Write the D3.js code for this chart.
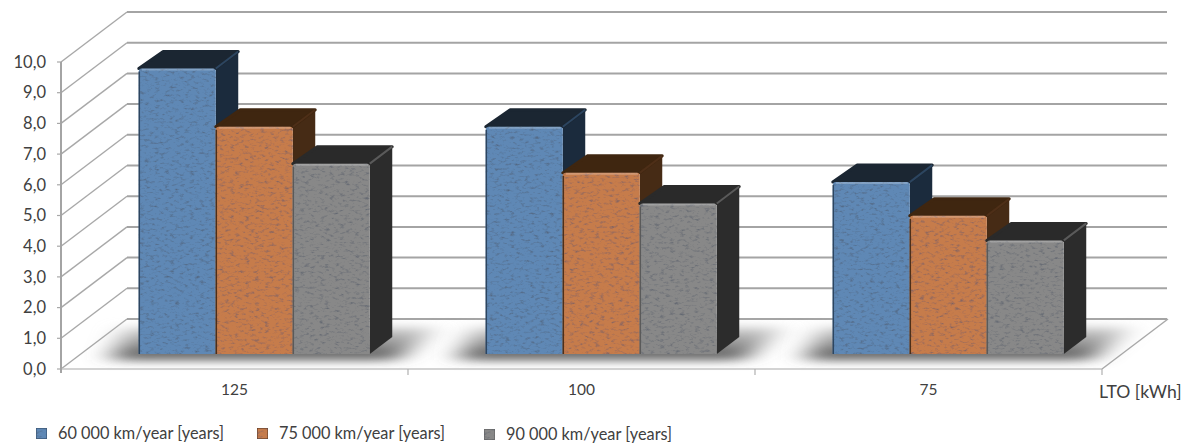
<!DOCTYPE html>
<html>
<head>
<meta charset="utf-8">
<title>LTO</title>
<script src="https://d3js.org/d3.v7.min.js"></script>
<style>
html, body { margin: 0; padding: 0; background: #fff; overflow: hidden; }
svg { display: block; }
text { font-family: Lato, "Open Sans", sans-serif; fill: #404040; }
</style>
</head>
<body>
<svg id="chart" width="1185" height="444"></svg>
<script>
var categories = ["125", "100", "75"];
var seriesNames = ["60 000 km/year [years]", "75 000 km/year [years]", "90 000 km/year [years]"];
var km60 = [9.3, 7.4, 5.6];
var km75 = [7.4, 5.9, 4.5];
var km90 = [6.2, 4.9, 3.7];
var yTicks = [0, 1, 2, 3, 4, 5, 6, 7, 8, 9, 10];
var axisName = "LTO [kWh]";

var seriesValues = [km60, km75, km90];
var frontColors = ["#5f88b5", "#c67c4c", "#888888"];
var topColors = ["#1b2632", "#3f2610", "#2a2a2a"];
var sideColors = ["#1b2b3d", "#462b15", "#2c2c2c"];
var edgeColors = ["#2c4560", "#4e2f18", "#5a5a5a"];

// floor depth: how far the back wall is pushed from the front plane
var depthX = 66;
var depthY = -50;
var barNear = 0.3;
var barFar = 0.64;

var svg = d3.select("#chart");

var x = d3.scaleBand().domain(categories).range([61, 1102]);
var y = d3.scaleLinear().domain([0, 10]).range([369, 62]);
var inner = d3.scaleBand().domain(d3.range(seriesValues.length))
	.range([58, x.bandwidth() - 58]);

var project = function(px, py, depth) {
	return [px + depthX * depth, py + depthY * depth];
};

var polyPoints = function(pts) {
	return pts.map(function(p) { return p.join(","); }).join(" ");
};

// front face: rounded at the top, square where it meets the floor
var frontPath = function(x0, x1, top, bottom) {
	var p = d3.path();
	var r = 3;
	p.moveTo(x0, bottom);
	p.lineTo(x0, top + r);
	p.arcTo(x0, top, x0 + r, top, r);
	p.lineTo(x1 - r, top);
	p.arcTo(x1, top, x1, top + r, r);
	p.lineTo(x1, bottom);
	p.closePath();
	return p.toString();
};

var defs = svg.append("defs");

// speckled stone look laid over the bar faces
var addGrain = function(id, strength) {
	var f = defs.append("filter").attr("id", id)
		.attr("x", "0").attr("y", "0").attr("width", "100%").attr("height", "100%");
	f.append("feTurbulence").attr("type", "fractalNoise")
		.attr("baseFrequency", "0.2 0.38").attr("numOctaves", 3).attr("seed", 7)
		.attr("result", "noise");
	f.append("feColorMatrix").attr("in", "noise").attr("type", "matrix")
		.attr("values", "0 0 0 0 0.08  0 0 0 0 0.1  0 0 0 0 0.14  " + strength + " 0 0 0 " + (-strength * 0.52))
		.attr("result", "specks");
	f.append("feComposite").attr("in", "specks").attr("in2", "SourceAlpha")
		.attr("operator", "in").attr("result", "clipped");
	var m = f.append("feMerge");
	m.append("feMergeNode").attr("in", "SourceGraphic");
	m.append("feMergeNode").attr("in", "clipped");
};
addGrain("grain", 1.9);

defs.append("filter").attr("id", "floorShadow")
	.attr("x", "-25%").attr("y", "-60%").attr("width", "150%").attr("height", "220%")
	.append("feGaussianBlur").attr("stdDeviation", "14 5");

var shadowFade = defs.append("linearGradient").attr("id", "shadowFade")
	.attr("x1", 0).attr("y1", 0).attr("x2", 0).attr("y2", 1);
shadowFade.append("stop").attr("offset", "0%").attr("stop-color", "#d8d8d8");
shadowFade.append("stop").attr("offset", "100%").attr("stop-color", "#4c4c4c");

defs.append("filter").attr("id", "soft")
	.attr("x", "-5%").attr("y", "-5%").attr("width", "110%").attr("height", "110%")
	.append("feGaussianBlur").attr("stdDeviation", 1.1);

// back wall gridlines and their faint drop shadow
var walls = svg.append("g");
yTicks.forEach(function(t) {
	var start = project(61, y(t), 1);
	var end = project(1101, y(t), 1);
	walls.append("line")
		.attr("x1", start[0]).attr("y1", start[1] + 3)
		.attr("x2", end[0]).attr("y2", end[1] + 3)
		.attr("stroke", "#dcdcdc").attr("stroke-width", 3)
		.attr("filter", "url(#soft)");
	walls.append("line")
		.attr("x1", start[0]).attr("y1", start[1])
		.attr("x2", end[0]).attr("y2", end[1])
		.attr("stroke", "#a4a4a4").attr("stroke-width", 2);
	// side wall diagonal
	walls.append("line")
		.attr("x1", 61).attr("y1", y(t))
		.attr("x2", start[0]).attr("y2", start[1])
		.attr("stroke", "#a8a8a8").attr("stroke-width", 1.4);
	// value tick
	walls.append("line")
		.attr("x1", 57).attr("y1", y(t))
		.attr("x2", 61).attr("y2", y(t))
		.attr("stroke", "#a8a8a8").attr("stroke-width", 1.2);
});

// shadows pooled around each cluster on the floor
var shadows = svg.append("g");
categories.forEach(function(c) {
	var left = x(c) + inner(0);
	var right = x(c) + inner(2) + inner.bandwidth();
	var a = project(left - 19, y(0), 0.18);
	var b = project(right + 34, y(0), 0.18);
	var d = project(right + 30, y(0), 0.84);
	var e = project(left - 48, y(0), 0.84);
	shadows.append("polygon")
		.attr("points", polyPoints([a, b, d, e]))
		.attr("fill", "url(#shadowFade)")
		.attr("filter", "url(#floorShadow)");
});

// floor: front edge and right edge
var floorRight = project(1102, y(0), 1);
walls = svg.append("g");
walls.append("line")
	.attr("x1", 1102).attr("y1", y(0))
	.attr("x2", floorRight[0]).attr("y2", floorRight[1])
	.attr("stroke", "#a8a8a8").attr("stroke-width", 1.4);
walls.append("line")
	.attr("x1", 61).attr("y1", y(0) + 1.5)
	.attr("x2", 1102).attr("y2", y(0) + 1.5)
	.attr("stroke", "#e2e2e2").attr("stroke-width", 3)
	.attr("filter", "url(#soft)");
walls.append("line")
	.attr("x1", 61).attr("y1", y(0))
	.attr("x2", 1102).attr("y2", y(0))
	.attr("stroke", "#c4c4c4").attr("stroke-width", 1.6);
walls.append("line")
	.attr("x1", 61).attr("y1", y(10))
	.attr("x2", 61).attr("y2", y(0) + 4)
	.attr("stroke", "#a4a4a4").attr("stroke-width", 2);

// category separators under the floor
var edgeTicks = [x(categories[1]), x(categories[2]), 1102];
walls.selectAll(".sep").data(edgeTicks).enter().append("line")
	.attr("class", "sep")
	.attr("x1", function(d) { return d; }).attr("y1", y(0))
	.attr("x2", function(d) { return d; }).attr("y2", y(0) + 6)
	.attr("stroke", "#b0b0b0").attr("stroke-width", 1.2);

// one box per value, in drawing order so nearer tops overlap
var bars = svg.append("g");
categories.forEach(function(c, ci) {
	seriesValues.forEach(function(values, si) {
		var left = x(c) + inner(si);
		var right = left + inner.bandwidth();
		var topY = y(values[ci]);
		var baseY = y(0);
		var g = bars.append("g");

		var fl = project(left, topY, barNear);
		var fr = project(right, topY, barNear);
		var bl = project(left + 2, topY, barFar);
		var br = project(right, topY, barFar);
		var frb = project(right, baseY, barNear);
		var brb = project(right, baseY, barFar);
		var flb = project(left, baseY, barNear);

		g.append("polygon")
			.attr("points", polyPoints([fr, br, brb, frb]))
			.attr("fill", sideColors[si]);
		g.append("polygon")
			.attr("points", polyPoints([fl, bl, br, fr]))
			.attr("fill", topColors[si])
			.attr("stroke", topColors[si]).attr("stroke-linejoin", "round").attr("stroke-width", 3);
		g.append("line")
			.attr("x1", fr[0]).attr("y1", fr[1])
			.attr("x2", br[0]).attr("y2", br[1])
			.attr("stroke", edgeColors[si]).attr("stroke-width", 2);

		g.append("path")
			.attr("d", frontPath(fl[0], fr[0], fl[1], flb[1]))
			.attr("fill", frontColors[si])
			.attr("filter", "url(#grain)");
		// dark seam on the left side, pale bevel along the top
		g.append("line")
			.attr("x1", fl[0] + 0.5).attr("y1", fl[1] + 3)
			.attr("x2", fl[0] + 0.5).attr("y2", flb[1])
			.attr("stroke", edgeColors[si]).attr("stroke-width", 1.5);
		g.append("line")
			.attr("x1", fl[0] + 3).attr("y1", fl[1] + 1)
			.attr("x2", fr[0] - 2).attr("y2", fl[1] + 1)
			.attr("stroke", "#fff").attr("stroke-opacity", 0.22).attr("stroke-width", 2);
	});
});

// axis text
var yAxis = d3.axisLeft(y).tickValues(yTicks).tickSize(0).tickPadding(0)
	.tickFormat(function(d) { return d.toFixed(1).replace(".", ","); });
var yAxisG = svg.append("g").attr("transform", "translate(46,0)").call(yAxis);
yAxisG.select(".domain").remove();
yAxisG.selectAll("text").attr("font-size", 16.5).style("font-family", "Lato, sans-serif");

var xAxis = d3.axisBottom(x).tickSize(0).tickPadding(0);
var xAxisG = svg.append("g").attr("transform", "translate(0,384)").call(xAxis);
xAxisG.select(".domain").remove();
xAxisG.selectAll("text").attr("font-size", 15.5).style("font-family", "Lato, sans-serif");

svg.append("text")
	.attr("x", 1099).attr("y", 398)
	.attr("font-size", 17.6)
	.text(axisName);

// legend
var legendX = [36, 257, 484];
var legendY = [428, 428, 429];
var legend = svg.selectAll(".legend").data(seriesNames).enter().append("g")
	.attr("class", "legend")
	.attr("transform", function(d, i) { return "translate(" + legendX[i] + "," + legendY[i] + ")"; });
legend.append("rect")
	.attr("width", 11).attr("height", 11).attr("rx", 1)
	.attr("fill", function(d, i) { return frontColors[i]; })
	.attr("stroke", function(d, i) { return edgeColors[i]; })
	.attr("filter", "url(#grain)");
legend.append("text")
	.attr("x", 22).attr("y", 11)
	.attr("font-size", 16.3)
	.text(function(d) { return d; });
</script>
</body>
</html>
